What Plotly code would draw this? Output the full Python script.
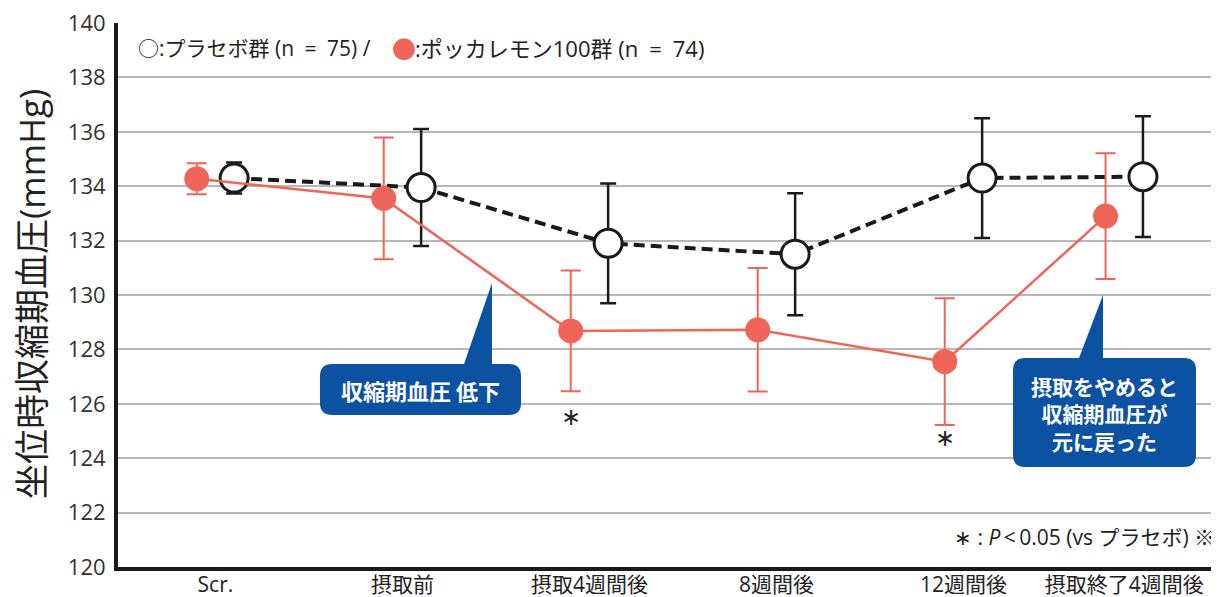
import plotly.graph_objects as go
import numpy as np

# ---- data ----
categories = ["Scr.", "摂取前", "摂取4週間後", "8週間後", "12週間後", "摂取終了4週間後"]
placebo_mean = [134.3, 133.95, 131.9, 131.5, 134.3, 134.35]
placebo_err = [0.57, 2.15, 2.2, 2.24, 2.2, 2.22]
lemon_mean = [134.27, 133.55, 128.68, 128.72, 127.55, 132.9]
lemon_err = [0.57, 2.24, 2.22, 2.27, 2.33, 2.31]
sig_index = [2, 4]
y_ticks = [120, 122, 124, 126, 128, 130, 132, 134, 136, 138, 140]

# ---- layout helpers (screen pixel coords; page body has an 8px margin) ----
OFF = 8
W, H = 1219 - OFF, 597 - OFF
L, T = 118, 23          # plot-area left/top in screen pixels
PW, PH = 1219 - L, 544
cat_pos = np.array([0, 1, 2, 3, 4, 4.86])
x_min = -0.521
x_per_px = 1 / 187.0
x_max = x_min + PW * x_per_px
y_lo, y_hi = 120, 140
dodge = 0.1

def px2x(px):
    return x_min + (px - L) * x_per_px

def py2y(py):
    return y_hi - (py - T) * (y_hi - y_lo) / PH

FONT = "Open Sans, Noto Sans CJK JP"
CJK = "Noto Sans CJK JP"
RED = "#f0645a"
BLUE = "#0c52a2"

fig = go.Figure()

fig.add_trace(go.Scatter(
    x=cat_pos + dodge, y=placebo_mean,
    mode="lines+markers",
    line=dict(color="#1a1a1a", width=4, dash="11px,6px"),
    marker=dict(symbol="circle", size=28, color="white",
                line=dict(color="#1a1a1a", width=3)),
    error_y=dict(type="data", array=placebo_err, visible=True,
                 color="#1a1a1a", thickness=2.5, width=8),
    showlegend=False, cliponaxis=False,
))

fig.add_trace(go.Scatter(
    x=cat_pos - dodge, y=lemon_mean,
    mode="lines+markers",
    line=dict(color=RED, width=2.5),
    marker=dict(symbol="circle", size=25, color=RED),
    error_y=dict(type="data", array=lemon_err, visible=True,
                 color=RED, thickness=2, width=10),
    showlegend=False, cliponaxis=False,
))

annotations = []
# significance asterisks
star_shift = {2: -4, 4: 9}
for i in sig_index:
    annotations.append(dict(
        x=cat_pos[i] - dodge, y=lemon_mean[i] - lemon_err[i],
        xref="x", yref="y", text="∗", showarrow=False,
        yanchor="top", yshift=star_shift[i],
        font=dict(family=CJK, size=24, color="#222")))

# legend text (three pieces)
annotations.append(dict(
    x=px2x(136), y=py2y(48), xref="x", yref="y", xanchor="left", yanchor="middle",
    showarrow=False, text="○:プラセボ群 (n\u2002=\u200275) /",
    font=dict(family=FONT, size=21, color="#222")))
annotations.append(dict(
    x=px2x(404), y=py2y(48), xref="x", yref="y", xanchor="center", yanchor="middle",
    showarrow=False, text="●",
    font=dict(family=FONT, size=24, color=RED)))
annotations.append(dict(
    x=px2x(413), y=py2y(48), xref="x", yref="y", xanchor="left", yanchor="middle",
    showarrow=False, text=":ポッカレモン100群 (n\u2002=\u200274)",
    font=dict(family=FONT, size=22, color="#222")))

# note
annotations.append(dict(
    x=px2x(952), y=py2y(537), xref="x", yref="y", xanchor="left", yanchor="middle",
    showarrow=False,
    text="∗ : <i>P</i>\u2009&lt;\u20090.05 (vs プラセボ) ※",
    font=dict(family=FONT, size=21, color="#222")))

# y-axis title
annotations.append(dict(
    x=(31 - L) / PW, y=(T + PH - 294) / PH, xref="paper", yref="paper",
    text="坐位時収縮期血圧(mmHg)", textangle=-90, showarrow=False,
    xanchor="center", yanchor="middle",
    font=dict(family=FONT, size=35, color="#222")))

# callout boxes
def callout(x0, y0, x1, y1, tb_l, tb_r, apex, r=12):
    pts = [
        ("M", x0 + r, y0),
        ("L", tb_l, y0), ("L", apex[0], apex[1]), ("L", tb_r, y0),
        ("L", x1 - r, y0), ("Q", (x1, y0), (x1, y0 + r)),
        ("L", x1, y1 - r), ("Q", (x1, y1), (x1 - r, y1)),
        ("L", x0 + r, y1), ("Q", (x0, y1), (x0, y1 - r)),
        ("L", x0, y0 + r), ("Q", (x0, y0), (x0 + r, y0)),
    ]
    s = ""
    for p in pts:
        if p[0] == "Q":
            (cx, cy), (ex, ey) = p[1], p[2]
            s += f"Q{px2x(cx)},{py2y(cy)} {px2x(ex)},{py2y(ey)} "
        else:
            s += f"{p[0]}{px2x(p[1])},{py2y(p[2])} "
    return s + "Z"

shapes = [
    dict(type="path", xref="x", yref="y",
         path=callout(320, 364, 521, 415, 464, 492, (492, 283)),
         fillcolor=BLUE, line=dict(width=0), layer="above"),
    dict(type="path", xref="x", yref="y",
         path=callout(1013, 358, 1196, 467, 1079, 1103, (1103, 295)),
         fillcolor=BLUE, line=dict(width=0), layer="above"),
]

annotations.append(dict(
    x=px2x(420), y=py2y(390), xref="x", yref="y", showarrow=False,
    text="<b>収縮期血圧 低下</b>",
    font=dict(family=CJK, size=22, color="white")))
annotations.append(dict(
    x=px2x(1104), y=py2y(413), xref="x", yref="y", showarrow=False,
    text="<b>摂取をやめると<br>収縮期血圧が<br>元に戻った</b>",
    font=dict(family=CJK, size=21, color="white")))

fig.update_layout(
    width=W, height=H,
    margin=dict(l=L - OFF, r=0, t=T - OFF, b=H - (T - OFF) - PH),
    plot_bgcolor="white", paper_bgcolor="white",
    font=dict(family=FONT, color="#222"),
    xaxis=dict(range=[x_min, x_max], tickvals=cat_pos, ticktext=categories,
               showgrid=False, zeroline=False, showline=True, automargin=False,
               linecolor="#1a1a1a", linewidth=4, ticks="", ticklabelstandoff=-4,
               ticklabeloverflow="allow",
               tickfont=dict(family=FONT, size=21, color="#222")),
    yaxis=dict(range=[y_lo, y_hi], tickvals=y_ticks, showgrid=True, automargin=False,
               gridcolor="#b8b8b8", gridwidth=2, zeroline=False,
               showline=True, linecolor="#1a1a1a", linewidth=4, ticks="",
               ticklabelstandoff=4, ticklabeloverflow="allow",
               tickfont=dict(family=FONT, size=22, color="#333")),
    annotations=annotations, shapes=shapes,
)

fig.write_html("out.html")
